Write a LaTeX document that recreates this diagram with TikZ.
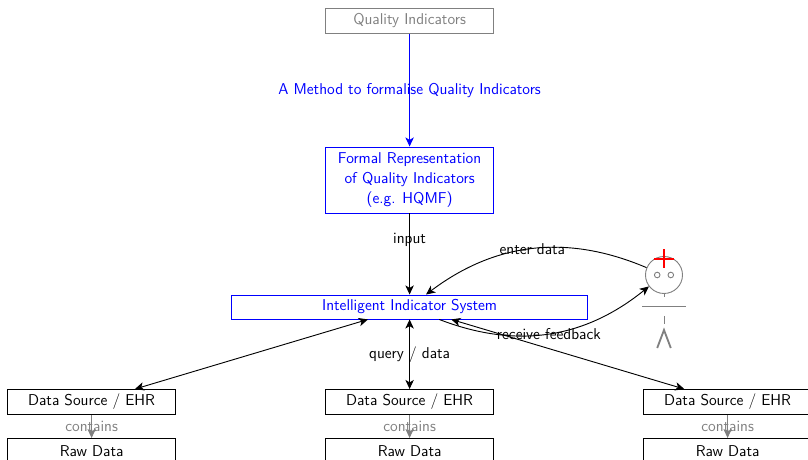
\documentclass[tikz,border=0pt]{standalone}
\usepackage{xcolor}
\usetikzlibrary{arrows.meta}
\definecolor{qblue}{HTML}{0000FF}
\definecolor{qgray}{HTML}{808080}
\definecolor{qred}{HTML}{FF0000}
\newcommand{\qfont}{\fontsize{11.15}{14.2}\selectfont\sffamily}
\tikzset{
  >={Stealth[length=6.5pt,width=6pt,inset=1.8pt]},
  every path/.style={line width=0.65pt},
  box/.style={draw, font=\qfont, inner sep=0pt, minimum width=4.2cm, minimum height=0.625cm},
  boxq/.style={box, draw=qgray, text=qgray},
  boxf/.style={box, draw=qblue, text=qblue, align=center, minimum height=1.65cm},
  boxs/.style={box, draw=qblue, text=qblue, minimum width=8.9cm, minimum height=0.6cm},
  lab/.style={font=\qfont},
  labg/.style={font=\qfont, text=qgray},
  labb/.style={font=\qfont, text=qblue},
  head/.style={circle, draw=qgray, inner sep=0pt, minimum size=0.925cm},
  eye/.style={circle, draw=qgray, inner sep=0pt, minimum size=0.14cm},
  limb/.style={draw=qgray, line width=0.6pt},
  leg/.style={draw=qgray, line width=1.3pt},
}
\begin{document}
\begin{tikzpicture}
  \useasboundingbox (0,0) rectangle (20.2,11.5);
  \node[boxq] (qi) at (10.24,10.975) {Quality Indicators};
  \node[boxf] (formal) at (10.24,7.0) {Formal Representation\\of Quality Indicators\\(e.g. HQMF)};
  \node[boxs] (sys) at (10.24,3.825) {Intelligent Indicator System};
  \node[box] (ds1) at (2.29,1.45) {Data Source / EHR};
  \node[box] (ds2) at (10.24,1.45) {Data Source / EHR};
  \node[box] (ds3) at (18.19,1.45) {Data Source / EHR};
  \node[box] (raw1) at (2.29,0.225) {Raw Data};
  \node[box] (raw2) at (10.24,0.225) {Raw Data};
  \node[box] (raw3) at (18.19,0.225) {Raw Data};
  % the user
  \node[head] (user) at (16.6,4.625) {};
  \node[eye] (eyel) at (16.43,4.625) {};
  \node[eye] (eyer) at (16.77,4.625) {};
  \draw[qred, line width=1.4pt] (16.36,5.025) -- (16.84,5.025);
  \draw[qred, line width=1.4pt] (16.6,5.27) -- (16.6,4.8);
  \draw[limb] (16.6,4.165) -- (16.6,4.08);
  \draw[limb] (16.05,3.85) -- (17.15,3.85);
  \draw[limb] (16.6,3.6) -- (16.6,3.4);
  \draw[leg] (16.43,2.8) -- (16.6,3.25) -- (16.77,2.8);
  % connectors
  \draw[qblue,->] (qi) -- node[labb] {A Method to formalise Quality Indicators} (formal);
  \draw[->] (formal) -- node[lab,pos=0.33] {input} (sys);
  \draw[<->] (sys) -- (ds1);
  \draw[<->] (sys) -- node[lab] {query / data} (ds2);
  \draw[<->] (sys) -- (ds3);
  \draw[->] (user) to[bend right=30] node[lab,pos=0.5] {enter data} (sys);
  \draw[->] (sys) to[bend right=30] node[lab,pos=0.5] {receive feedback} (user);
  \draw[qgray,->] (ds1) -- node[labg] {contains} (raw1);
  \draw[qgray,->] (ds2) -- node[labg] {contains} (raw2);
  \draw[qgray,->] (ds3) -- node[labg] {contains} (raw3);
\end{tikzpicture}
\end{document}
